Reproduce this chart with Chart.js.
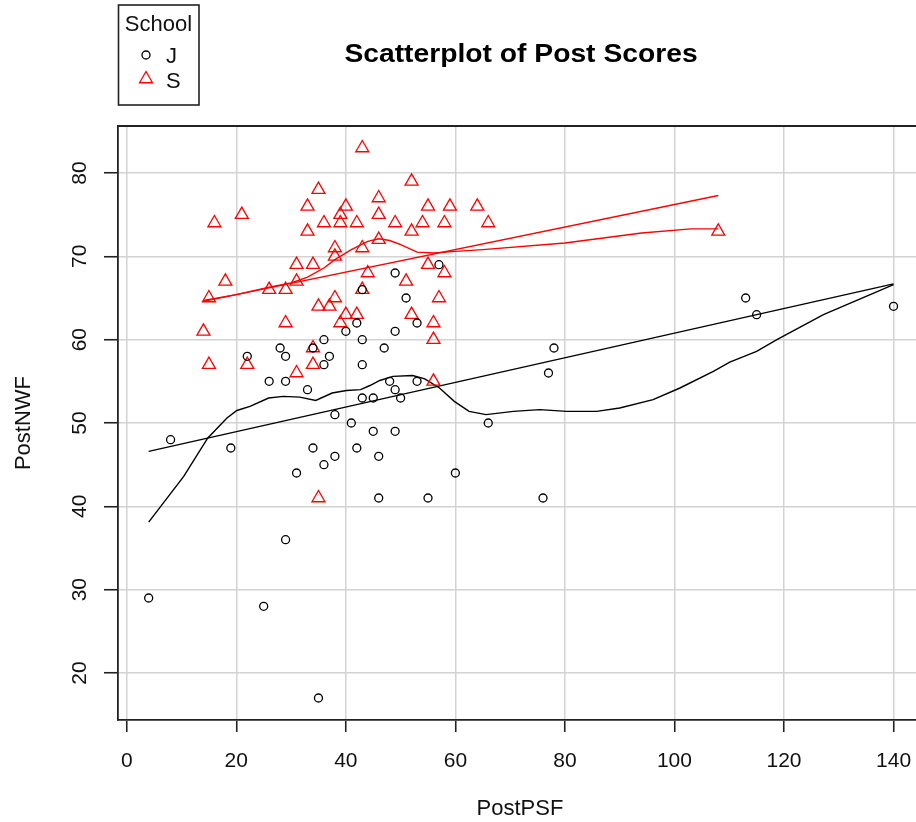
<!DOCTYPE html>
<html>
<head>
<meta charset="utf-8">
<script src="https://cdn.jsdelivr.net/npm/chart.js@4.4.1/dist/chart.umd.min.js"></script>
<style>
  html, body { margin: 0; padding: 0; background: #fff; overflow: hidden; }
</style>
</head>
<body>
<canvas id="scatterChart" width="916" height="822"></canvas>
<script>
// --- values ---
const jPsf = [4, 8, 19, 22, 25, 26, 28, 29, 29, 29, 31, 33, 34, 34, 35, 36, 36, 36, 37, 38, 38, 40, 41, 42, 42, 43, 43, 43, 43, 45, 45, 46, 46, 47, 48, 49, 49, 49, 49, 50, 51, 53, 53, 55, 57, 60, 66, 76, 77, 78, 113, 115, 140];
const jNwf = [29, 48, 47, 58, 28, 55, 59, 58, 55, 36, 44, 54, 47, 59, 17, 60, 57, 45, 58, 51, 46, 61, 50, 62, 47, 66, 60, 57, 53, 53, 49, 46, 41, 59, 55, 68, 61, 54, 49, 53, 65, 62, 55, 41, 69, 44, 50, 41, 56, 59, 65, 63, 64];

const sPsf = [43, 52, 35, 46, 33, 40, 55, 59, 64, 21, 39, 46, 16, 36, 39, 42, 49, 54, 58, 66, 33, 52, 108, 46, 38, 43, 38, 31, 34, 55, 44, 58, 18, 31, 51, 26, 29, 43, 15, 38, 57, 35, 37, 40, 42, 52, 29, 39, 56, 14, 56, 34, 15, 22, 34, 31, 56, 35];
const sNwf = [83, 79, 78, 77, 76, 76, 76, 76, 76, 75, 75, 75, 74, 74, 74, 74, 74, 74, 74, 74, 73, 73, 73, 72, 71, 71, 70, 69, 69, 69, 68, 68, 67, 67, 67, 66, 66, 66, 65, 65, 65, 64, 64, 63, 63, 63, 62, 62, 62, 61, 60, 59, 57, 57, 57, 56, 55, 41];

// straight fits (end points) and smooth curves, per school
const jFitX = [4, 140];
const jFitY = [46.6, 66.7];
const sFitX = [14, 108];
const sFitY = [64.6, 77.3];

const jSmoothX = [4, 10.4, 14.8, 18.3, 20.1, 22.5, 25.9, 28.6, 31.6, 34.5, 37.5, 40.1, 42.7, 44.4, 46.2, 48.6, 52.2, 54.4, 57.1, 59.8, 62.5, 65.6, 70.6, 75.4, 80.3, 85.8, 90, 96.1, 101, 107.1, 110.1, 115, 118.7, 127.2, 140];
const jSmoothY = [38.1, 43.6, 48.2, 50.6, 51.5, 52.0, 53.0, 53.2, 53.1, 52.7, 53.6, 53.9, 54.0, 54.5, 55.1, 55.6, 55.7, 55.3, 54.2, 52.6, 51.4, 51.0, 51.4, 51.6, 51.4, 51.4, 51.8, 52.8, 54.2, 56.2, 57.3, 58.6, 60.0, 63.0, 66.6];

const sSmoothX = [14, 20, 26, 30, 33, 36, 38, 41, 44, 46, 48, 50, 53, 56, 60, 65, 80, 94, 103, 108];
const sSmoothY = [64.7, 65.4, 66.3, 66.8, 67.5, 68.6, 69.6, 70.8, 71.8, 72.1, 71.9, 71.4, 70.5, 70.4, 70.6, 70.8, 71.6, 72.8, 73.3, 73.3];

const xTicks = [0, 20, 40, 60, 80, 100, 120, 140];
const yTicks = [20, 30, 40, 50, 60, 70, 80];

const chartTitle = "Scatterplot of Post Scores";
const xTitle = "PostPSF";
const yTitle = "PostNWF";
const legendTitle = "School";
const schools = ["J", "S"];

const FONT = '"Liberation Sans", Arial, sans-serif';

const toPts = (xs, ys) => xs.map((x, i) => ({ x: x, y: ys[i] }));

function lineSet(xs, ys, color) {
    return {
        data: toPts(xs, ys),
        showLine: true,
        borderColor: color,
        borderWidth: 1.4,
        pointRadius: 0,
        tension: 0,
        fill: false
    };
}

// R style frame, tick labels, titles and legend box
const rDecor = {
    id: 'rDecor',
    afterDraw(chart) {
        const ctx = chart.ctx;
        const area = chart.chartArea;
        const xs = chart.scales.x;
        const ys = chart.scales.y;

        ctx.save();
        ctx.strokeStyle = '#222';
        ctx.lineWidth = 1.8;
        ctx.beginPath();
        ctx.moveTo(area.left, area.top);
        ctx.lineTo(area.right + 5, area.top);
        ctx.stroke();

        ctx.fillStyle = '#111';
        ctx.font = '21px ' + FONT;
        ctx.textAlign = 'center';
        ctx.textBaseline = 'alphabetic';
        xTicks.forEach(v => {
            ctx.fillText(String(v), xs.getPixelForValue(v), 767);
        });
        yTicks.forEach(v => {
            ctx.save();
            ctx.translate(86, ys.getPixelForValue(v));
            ctx.rotate(-Math.PI / 2);
            ctx.fillText(String(v), 0, 0);
            ctx.restore();
        });

        ctx.font = '22px ' + FONT;
        ctx.fillText(xTitle, 520, 815);
        ctx.save();
        ctx.translate(30, 423);
        ctx.rotate(-Math.PI / 2);
        ctx.fillText(yTitle, 0, 0);
        ctx.restore();

        // title, slightly wide like the source
        ctx.save();
        ctx.translate(521, 62);
        ctx.scale(1.13, 1);
        ctx.fillStyle = '#000';
        ctx.font = 'bold 25px ' + FONT;
        ctx.fillText(chartTitle, 0, 0);
        ctx.restore();

        // legend
        ctx.strokeStyle = '#222';
        ctx.lineWidth = 1.6;
        ctx.strokeRect(118.5, 5, 80.5, 100);
        ctx.font = '22px ' + FONT;
        ctx.fillText(legendTitle, 158.5, 31);

        ctx.lineWidth = 1.3;
        ctx.strokeStyle = '#000';
        ctx.beginPath();
        ctx.arc(146, 55, 4, 0, Math.PI * 2);
        ctx.stroke();

        ctx.strokeStyle = 'red';
        ctx.beginPath();
        const r = 7.5;
        for (let k = 0; k < 3; k++) {
            const a = k * 2 * Math.PI / 3;
            const px = 146 + Math.sin(a) * r;
            const py = 79 - Math.cos(a) * r;
            if (k === 0) ctx.moveTo(px, py); else ctx.lineTo(px, py);
        }
        ctx.closePath();
        ctx.stroke();

        ctx.textAlign = 'left';
        ctx.fillStyle = '#111';
        ctx.fillText(schools[0], 166, 63);
        ctx.fillText(schools[1], 166, 88);
        ctx.restore();
    }
};

const ctx = document.getElementById('scatterChart').getContext('2d');
const myChart = new Chart(ctx, {
    type: 'scatter',
    data: {
        datasets: [
            {
                label: schools[0],
                data: toPts(jPsf, jNwf),
                pointStyle: 'circle',
                pointRadius: 4,
                borderColor: '#000',
                backgroundColor: 'rgba(0,0,0,0)',
                borderWidth: 1.3
            },
            {
                label: schools[1],
                data: toPts(sPsf, sNwf),
                pointStyle: 'triangle',
                pointRadius: 7.5,
                borderColor: 'red',
                backgroundColor: 'rgba(0,0,0,0)',
                borderWidth: 1.3
            },
            lineSet(jFitX, jFitY, '#000'),
            lineSet(jSmoothX, jSmoothY, '#000'),
            lineSet(sFitX, sFitY, 'red'),
            lineSet(sSmoothX, sSmoothY, 'red')
        ]
    },
    options: {
        responsive: false,
        animation: false,
        devicePixelRatio: 1,
        events: [],
        layout: { autoPadding: false, padding: { top: 126, left: 0, right: 0, bottom: 0 } },
        plugins: {
            legend: { display: false },
            title: { display: false },
            tooltip: { enabled: false }
        },
        scales: {
            x: {
                type: 'linear',
                min: -1.6,
                max: 144.1,
                afterBuildTicks: s => { s.ticks = xTicks.map(v => ({ value: v })); },
                afterFit: s => { s.height = 102; },
                ticks: { display: false },
                grid: { color: '#d3d3d3', lineWidth: 1.5, tickColor: '#222', tickWidth: 1.6, tickLength: 12 },
                border: { display: true, color: '#222', width: 1.8 }
            },
            y: {
                type: 'linear',
                min: 14.36,
                max: 85.64,
                afterBuildTicks: s => { s.ticks = yTicks.map(v => ({ value: v })); },
                afterFit: s => { s.width = 118; },
                ticks: { display: false },
                grid: { color: '#d3d3d3', lineWidth: 1.5, tickColor: '#222', tickWidth: 1.6, tickLength: 14 },
                border: { display: true, color: '#222', width: 1.8 }
            }
        }
    },
    plugins: [rDecor]
});
</script>
</body>
</html>
